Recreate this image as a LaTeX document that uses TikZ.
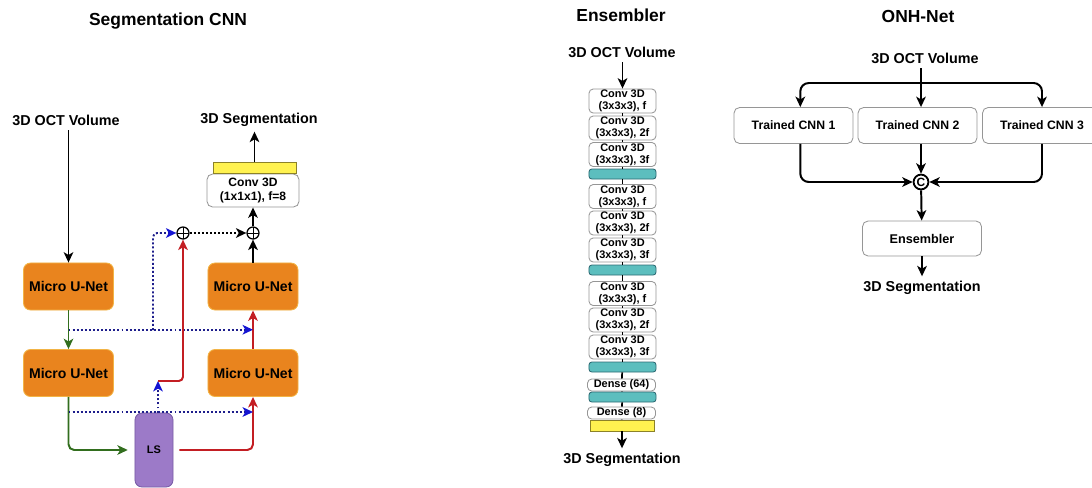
\documentclass[tikz,border=0pt]{standalone}
\usepackage{fontspec}
\setmainfont{Liberation Sans}
\usetikzlibrary{arrows.meta,calc,positioning}
\definecolor{unetfill}{RGB}{233,132,30}
\definecolor{unetedge}{RGB}{242,180,70}
\definecolor{lsfill}{RGB}{156,122,200}
\definecolor{lsedge}{RGB}{120,92,165}
\definecolor{tealfill}{RGB}{92,190,190}
\definecolor{tealedge}{RGB}{45,105,115}
\definecolor{yelfill}{RGB}{255,242,80}
\definecolor{yeledge}{RGB}{140,130,40}
\definecolor{boxedge}{RGB}{150,150,150}
\definecolor{gline}{RGB}{50,110,30}
\definecolor{rline}{RGB}{195,30,35}
\definecolor{bline}{RGB}{30,30,140}
\definecolor{bhead}{RGB}{20,20,210}

\begin{document}
\begin{tikzpicture}[x=0.025cm, y=-0.025cm,
  ttl/.style={font=\fontsize{12.4}{14}\selectfont\bfseries},
  lbl/.style={font=\fontsize{10.2}{12}\selectfont\bfseries},
  unet/.style={draw=unetedge, fill=unetfill, line width=0.6pt, rounded corners=5pt,
               minimum width=22.5mm, minimum height=11.75mm,
               font=\fontsize{10}{12}\selectfont\bfseries},
  lsbox/.style={draw=lsedge, fill=lsfill, line width=0.6pt, rounded corners=5pt,
                minimum width=9.5mm, minimum height=18.5mm,
                font=\fontsize{7.8}{9}\selectfont\bfseries},
  wbox/.style={draw=boxedge, fill=white, line width=0.6pt, rounded corners=3pt,
               align=center, inner sep=0.5pt},
  conv/.style={wbox, minimum width=16.75mm, minimum height=6mm,
               font=\fontsize{7.8}{8.4}\selectfont\bfseries},
  dense/.style={wbox, minimum width=17mm, minimum height=3mm,
                font=\fontsize{7.8}{8.4}\selectfont\bfseries},
  bar/.style={draw=tealedge, fill=tealfill, line width=0.6pt, rounded corners=2pt,
              minimum width=16.75mm, minimum height=2.5mm, inner sep=0pt},
  ybar/.style={draw=yeledge, fill=yelfill, line width=0.6pt,
               minimum height=2.75mm, inner sep=0pt},
  cnn/.style={wbox, rounded corners=4pt, minimum width=29.75mm, minimum height=9mm,
              font=\fontsize{8.7}{10}\selectfont\bfseries},
  sumc/.style={draw, circle, line width=0.9pt, minimum size=3mm, inner sep=0pt,
               path picture={\draw[line width=0.7pt]
                 (path picture bounding box.north) -- (path picture bounding box.south)
                 (path picture bounding box.west) -- (path picture bounding box.east);}},
  catc/.style={draw, circle, line width=1.3pt, minimum size=3.7mm, inner sep=0pt,
               font=\fontsize{8.5}{9}\selectfont\bfseries},
  ar/.style={-{Stealth[length=2.6mm,width=2.4mm,inset=0.7mm]}, line width=1.4pt},
  gar/.style={ar, draw=gline, -{Stealth[length=2.6mm,width=2.4mm,inset=0.7mm,gline]}},
  rar/.style={ar, draw=rline},
  dar/.style={-{Stealth[length=2.6mm,width=2.4mm,inset=0.7mm,bhead]}, draw=bline,
              line width=1.4pt, dash pattern=on 1.4pt off 1.5pt},
  kdar/.style={-{Stealth[length=2.6mm,width=2.4mm,inset=0.7mm]}, line width=1.4pt,
               dash pattern=on 1.4pt off 1.5pt},
  lk/.style={line width=1.2pt},
]
\useasboundingbox (0,0) rectangle (1092,487);

\node[ttl] (t1) at (168,21) {Segmentation CNN};
\node[lbl] (in1) at (66,120) {3D OCT Volume};
\node[lbl] (out1) at (259,120) {3D Segmentation};
\node[unet] (mu1) at (68.5,286.5) {Micro U-Net};
\node[unet] (mu2) at (68.5,373) {Micro U-Net};
\node[unet] (mu3) at (253,373) {Micro U-Net};
\node[unet] (mu4) at (253,286.5) {Micro U-Net};
\node[lsbox] (ls) at (154,450) {LS};
\node[sumc] (sum1) at (183,233) {};
\node[sumc] (sum2) at (253,233) {};
\node[wbox, minimum width=23mm, minimum height=8.25mm, rounded corners=4pt,
      font=\fontsize{8.6}{10}\selectfont\bfseries] (conv1) at (253,190.5) {Conv 3D\\(1x1x1), f=8};
\node[ybar, minimum width=20.75mm] (yb1) at (254.5,167.5) {};
\coordinate (j1) at ($(mu1.south)!0.5!(mu2.north)$);
\coordinate (br1) at (153,330);
\coordinate (j2) at (68.5,412);
\coordinate (lsup) at (158,381);

\draw[ar] (in1.south -| mu1.north) -- (mu1.north);
\draw[gar] (mu1) -- (mu2);
\draw[gar, rounded corners=4pt, shorten >=1.7mm] (mu2.south) |- (ls.west);
\draw[rar, rounded corners=4pt, shorten <=1.5mm] (ls.east) -| (mu3.south);
\draw[rar] (mu3) -- (mu4);
\draw[dar] (j1) -- (j1 -| mu4.south);
\draw[dar, rounded corners=3pt] (br1) |- (sum1.west);
\draw[dar] (j2) -- (j2 -| mu3.south);
\draw[dar] (lsup |- ls.north) -- (lsup);
\draw[rar, rounded corners=3pt] (lsup) -| (sum1.south);
\draw[kdar] (sum1) -- (sum2);
\draw[ar] (mu4) -- (sum2);
\draw[ar] (sum2) -- (conv1);
\draw[ar] (yb1.north) -- (yb1.north |- out1.south);

\node[ttl] (t2) at (621,15) {Ensembler};
\node[lbl] (in2) at (622,52) {3D OCT Volume};
\node[conv] (e1) at (622.5,101) {Conv 3D\\(3x3x3), f};
\node[conv] (e2) at (622.5,128) {Conv 3D\\(3x3x3), 2f};
\node[conv] (e3) at (622.5,154.5) {Conv 3D\\(3x3x3), 3f};
\node[bar] (b1) at (622.5,174) {};
\node[conv] (e4) at (622.5,196.5) {Conv 3D\\(3x3x3), f};
\node[conv] (e5) at (622.5,223) {Conv 3D\\(3x3x3), 2f};
\node[conv] (e6) at (622.5,250) {Conv 3D\\(3x3x3), 3f};
\node[bar] (b2) at (622.5,270) {};
\node[conv] (e7) at (622.5,293.5) {Conv 3D\\(3x3x3), f};
\node[conv] (e8) at (622.5,320) {Conv 3D\\(3x3x3), 2f};
\node[conv] (e9) at (622.5,347) {Conv 3D\\(3x3x3), 3f};
\node[bar] (b3) at (622.5,367) {};
\node[dense] (d1) at (621.5,385) {Dense (64)};
\node[bar] (b4) at (622.5,397) {};
\node[dense] (d2) at (621.5,413) {Dense (8)};
\node[ybar, minimum width=16mm] (yb2) at (622,425.5) {};
\node[lbl] (out2) at (622,460) {3D Segmentation};
\draw[ar] (in2.south -| e1.north) -- (e1.north);
\draw[lk] (e1) -- (e2); \draw[lk] (e2) -- (e3); \draw[lk] (e3) -- (b1); \draw[lk] (b1) -- (e4);
\draw[lk] (e4) -- (e5); \draw[lk] (e5) -- (e6); \draw[lk] (e6) -- (b2); \draw[lk] (b2) -- (e7);
\draw[lk] (e7) -- (e8); \draw[lk] (e8) -- (e9); \draw[lk] (e9) -- (b3); \draw[lk] (b3) -- (d1);
\draw[lk] (d1) -- (b4); \draw[lk] (b4) -- (d2); \draw[lk] (d2) -- (yb2);
\draw[ar] (yb2.south) -- (yb2.south |- out2.north);

\node[ttl] (t3) at (918,16) {ONH-Net};
\node[lbl] (in3) at (925,58) {3D OCT Volume};
\node[cnn] (cnn1) at (793.5,125.5) {Trained CNN 1};
\node[cnn] (cnn2) at (917.5,125.5) {Trained CNN 2};
\node[cnn] (cnn3) at (1042,125.5) {Trained CNN 3};
\node[catc] (cat) at (921,182) {C};
\node[wbox, rounded corners=4pt, minimum width=29.75mm, minimum height=8.75mm,
      font=\fontsize{9}{10}\selectfont\bfseries] (ens) at (922,238.5) {Ensembler};
\node[lbl] (out3) at (922,288) {3D Segmentation};
\coordinate (fork) at (921,83);
\draw[ar] (fork |- in3.south) -- (fork |- cnn2.north);
\draw[ar, rounded corners=6pt] (fork) -| ([xshift=1.7mm]cnn1.north);
\draw[ar, rounded corners=6pt] (fork) -| (cnn3.north);
\draw[ar, rounded corners=6pt] ([xshift=1.7mm]cnn1.south) |- (cat.west);
\draw[ar, rounded corners=6pt] (cnn3.south) |- (cat.east);
\draw[ar] (cat |- cnn2.south) -- (cat.north);
\draw[ar] (cat) -- (ens);
\draw[ar] (ens) -- (ens |- out3.north);
\end{tikzpicture}
\end{document}
